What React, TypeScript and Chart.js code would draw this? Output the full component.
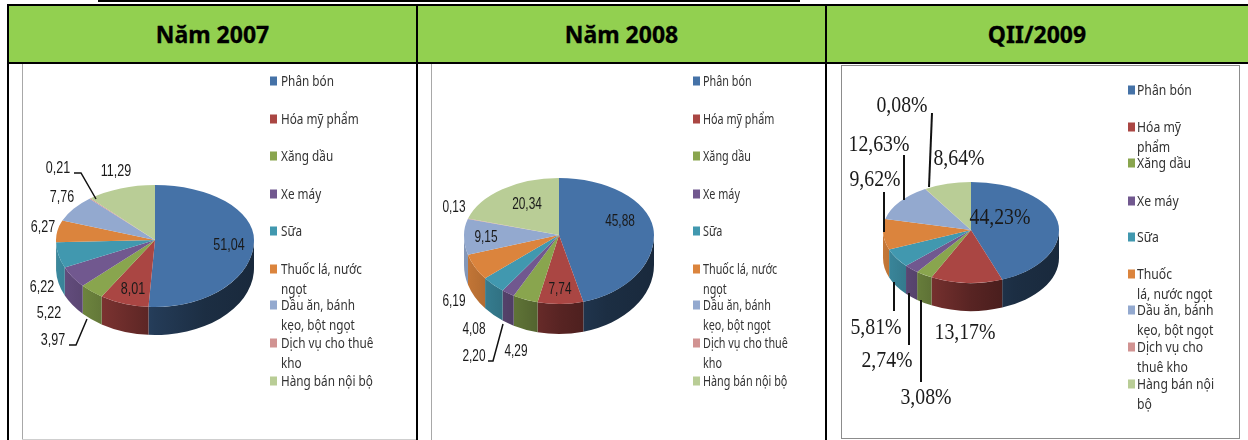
import React, { useEffect, useRef } from "react";
import { Chart, registerables } from "chart.js";

Chart.register(...registerables);

const categories = ["Phân bón", "Hóa mỹ phẩm", "Xăng dầu", "Xe máy", "Sữa", "Thuốc lá, nước ngọt", "Dầu ăn, bánh kẹo, bột ngọt", "Dịch vụ cho thuê kho", "Hàng bán nội bộ"];
const values2007 = [51.04, 8.01, 3.97, 5.22, 6.22, 6.27, 7.76, 0.21, 11.29];
const values2008 = [45.88, 7.74, 4.29, 2.2, 4.08, 6.19, 9.15, 0.13, 20.34];
const valuesQ2 = [44.23, 13.17, 3.08, 2.74, 5.81, 9.62, 12.63, 0.08, 8.64];
const headers = ["Năm 2007", "Năm 2008", "QII/2009"];
const colors = ["#4572A7", "#AA4643", "#89A54E", "#71588F", "#4198AF", "#DB843D", "#93A9CF", "#D19392", "#B9CD96"];

const wrapA = ["Phân bón", "Hóa mỹ phẩm", "Xăng dầu", "Xe máy", "Sữa", "Thuốc lá, nước\nngọt", "Dầu ăn, bánh\nkẹo, bột ngọt", "Dịch vụ cho thuê\nkho", "Hàng bán nội bộ"];
const wrapB = ["Phân bón", "Hóa mỹ\nphẩm", "Xăng dầu", "Xe máy", "Sữa", "Thuốc\nlá, nước ngọt", "Dầu ăn, bánh\nkẹo, bột ngọt", "Dịch vụ cho\nthuê kho", "Hàng bán nội\nbộ"];
const legendYA = [81, 119, 156, 194, 231, 269, 305, 343, 381];
const legendYB = [90, 127, 163, 201, 237, 274, 310, 347, 384];

type Panel = {
  values: number[]; suffix: string; box: number[]; center: number[]; ryTop: number; ryBottom: number; depth: number;
  labelPos: number[][]; leaders: number[][][]; leaderWidth: number; labelFont: string; labelScale: number; legendLines: string[]; legendY: number[];
  legendX: number; legendFont: string; legendScale: number; legendGap: number;
};

const panels: Panel[] = [
  {
    values: values2007, suffix: "", box: [22, 64, 395, 376], center: [155, 240, 99], ryTop: 55, ryBottom: 67, depth: 28,
    labelPos: [[229, 245], [133, 289], [53, 340], [49, 313], [42, 287], [43, 227], [62, 197], [58, 168], [116, 171]],
    leaders: [[[74, 173], [81, 173], [96, 199]], [[69, 345], [76, 345], [87, 319]]], leaderWidth: 1.5,
    labelFont: '16.5px "Liberation Sans"', labelScale: 0.76,
    legendLines: wrapA, legendY: legendYA, legendX: 270, legendFont: '14px "Noto Sans"', legendScale: 0.84, legendGap: 11,
  },
  {
    values: values2008, suffix: "", box: [431, 64, 395, 376], center: [559, 235, 95], ryTop: 57, ryBottom: 69, depth: 30,
    labelPos: [[620, 221], [560, 289], [516, 351], [474, 356], [474, 329], [454, 301], [486, 237], [454, 207], [527, 204]],
    leaders: [[[488, 361], [493, 361], [503, 324]]], leaderWidth: 1.5,
    labelFont: '16.5px "Liberation Sans"', labelScale: 0.72,
    legendLines: wrapA, legendY: legendYA, legendX: 693, legendFont: '13.5px "Noto Sans"', legendScale: 0.8, legendGap: 10,
  },
  {
    values: valuesQ2, suffix: "%", box: [841, 65, 399, 374], center: [971, 230, 88], ryTop: 48, ryBottom: 53, depth: 28,
    labelPos: [[1000, 218], [965, 333], [926, 398], [887, 361], [876, 328], [875, 180], [879, 145], [902, 106], [959, 159]],
    leaders: [[[932, 113], [929, 187]], [[904, 155], [904, 200]], [[884, 192], [884, 232]], [[894, 282], [894, 311]], [[909, 293], [909, 345]], [[921, 300], [921, 382]]], leaderWidth: 2,
    labelFont: '23px "Liberation Serif"', labelScale: 0.86,
    legendLines: wrapB, legendY: legendYB, legendX: 1128, legendFont: '14px "Noto Sans"', legendScale: 0.87, legendGap: 9,
  },
];

function shade(hex: string, k: number) {
  const n = parseInt(hex.slice(1), 16);
  return `rgb(${Math.round((n >> 16) * k)},${Math.round(((n >> 8) & 255) * k)},${Math.round((n & 255) * k)})`;
}

function scaledText(ctx: CanvasRenderingContext2D, text: string, x: number, y: number, sx: number) {
  ctx.save();
  ctx.translate(x, y);
  ctx.scale(sx, 1);
  ctx.fillText(text, 0, 0);
  ctx.restore();
}

function pie3d(p: Panel) {
  const squash = (ctx: CanvasRenderingContext2D, x: number, y: number, k: number) => {
    ctx.translate(x, y);
    ctx.scale(1, k);
    ctx.translate(-x, -y);
  };
  return {
    id: "pie3d",
    beforeDatasetDraw(chart: any, args: any) {
      const { ctx, width, height } = chart;
      const arcs = args.meta.data;
      const { x, y, outerRadius: r } = arcs[0];
      ctx.save();
      arcs.forEach((arc: any, i: number) => {
        const a0 = Math.max(arc.startAngle, 0);
        const a1 = Math.min(arc.endAngle, Math.PI);
        if (a1 <= a0) return;
        const g = ctx.createLinearGradient(x - r, 0, x + r, 0);
        g.addColorStop(0, shade(colors[i], 0.9));
        g.addColorStop(0.5, shade(colors[i], 0.52));
        g.addColorStop(0.75, shade(colors[i], 0.4));
        g.addColorStop(1, shade(colors[i], 0.36));
        ctx.beginPath();
        ctx.ellipse(x, y, r, p.ryBottom, 0, a0, a1);
        ctx.ellipse(x, y + p.depth, r, p.ryBottom, 0, a1, a0, true);
        ctx.closePath();
        ctx.fillStyle = g;
        ctx.fill();
      });
      ctx.restore();
      // rear half of the face, foreshortened more than the front half
      ctx.save();
      ctx.beginPath();
      ctx.rect(0, 0, width, y);
      ctx.clip();
      squash(ctx, x, y, p.ryTop / r);
      args.meta.controller.draw();
      ctx.restore();
      // front half: drawn by the library itself inside this transform
      ctx.save();
      ctx.beginPath();
      ctx.rect(0, y, width, height - y);
      ctx.clip();
      squash(ctx, x, y, p.ryBottom / r);
    },
    afterDatasetDraw(chart: any) {
      chart.ctx.restore();
    },
    afterDraw(chart: any) {
      const { ctx } = chart;
      ctx.save();
      ctx.translate(-p.box[0], -p.box[1]);
      ctx.strokeStyle = "#111";
      ctx.lineWidth = p.leaderWidth;
      p.leaders.forEach((pts) => {
        ctx.beginPath();
        pts.forEach(([a, b], j) => (j ? ctx.lineTo(a, b) : ctx.moveTo(a, b)));
        ctx.stroke();
      });
      ctx.fillStyle = "#1a1a1a";
      ctx.textAlign = "center";
      ctx.textBaseline = "middle";
      ctx.font = p.labelFont;
      p.values.forEach((v, i) => {
        const t = v.toFixed(2).replace(".", ",") + p.suffix;
        scaledText(ctx, t, p.labelPos[i][0], p.labelPos[i][1], p.labelScale);
      });
      ctx.textAlign = "left";
      ctx.font = p.legendFont;
      p.legendLines.forEach((text, i) => {
        const y = p.legendY[i];
        ctx.fillStyle = colors[i];
        ctx.fillRect(p.legendX, y - 4.5, 7, 9);
        ctx.fillStyle = "#333";
        text.split("\n").forEach((line, j) => scaledText(ctx, line, p.legendX + p.legendGap, y + 1 + j * 20, p.legendScale));
      });
      ctx.restore();
    },
  };
}

function PieCanvas({ panel }: { panel: Panel }) {
  const ref = useRef<HTMLCanvasElement>(null);
  useEffect(() => {
    const [l, t, w, h] = panel.box;
    const [cx, cy, rx] = panel.center;
    const chart = new Chart(ref.current as HTMLCanvasElement, {
      type: "pie",
      data: {
        labels: categories,
        datasets: [{ data: panel.values, backgroundColor: colors, borderWidth: 0, clip: false } as any],
      },
      options: {
        animation: false,
        responsive: false,
        events: [],
        layout: { padding: { left: cx - rx - l, right: l + w - cx - rx, top: cy - rx - t, bottom: t + h - cy - rx } },
        plugins: { legend: { display: false }, tooltip: { enabled: false } },
      },
      plugins: [pie3d(panel)],
    } as any);
    return () => chart.destroy();
  }, [panel]);
  const [l, t, w, h] = panel.box;
  return <canvas ref={ref} width={w} height={h} style={{ position: "absolute", left: l, top: t, width: w, height: h, display: "block", filter: "blur(0.45px)" }} />;
}

const abs = (left: number, top: number, width: number, height: number, background: string): React.CSSProperties => ({ position: "absolute", left, top, width, height, background });

export default function App() {
  return (
    <div style={{ position: "fixed", left: 0, top: 0, width: 1248, height: 440, background: "#fff", overflow: "hidden" }}>
      <div style={abs(98, 0, 702, 1.5, "#000")} />
      <div style={abs(8, 6, 1240, 56, "#92D050")} />
      {headers.map((h, i) => (
        <div
          key={h}
          style={{
            position: "absolute", left: [8, 417, 826][i], width: [409, 409, 422][i], top: 6, height: 56,
            display: "flex", alignItems: "center", justifyContent: "center",
            font: 'bold 23px "Noto Sans"', color: "#000", WebkitTextStroke: "0.3px #000",
          }}
        >
          {h}
        </div>
      ))}
      {panels.map((p) => <PieCanvas key={p.box[0]} panel={p} />)}
      <div style={abs(22, 64, 1, 376, "#a8a8a8")} />
      <div style={abs(22, 439, 395, 1, "#cfcfcf")} />
      <div style={abs(431, 64, 1, 376, "#a8a8a8")} />
      <div style={{ position: "absolute", left: 841, top: 65, width: 397, height: 372, border: "1.5px solid #8c8c8c" }} />
      <div style={abs(8, 4, 1240, 2, "#000")} />
      <div style={abs(8, 62, 1240, 2, "#000")} />
      <div style={abs(7, 4, 2, 436, "#000")} />
      <div style={abs(416, 4, 2, 436, "#000")} />
      <div style={abs(825, 4, 2, 436, "#000")} />
    </div>
  );
}
